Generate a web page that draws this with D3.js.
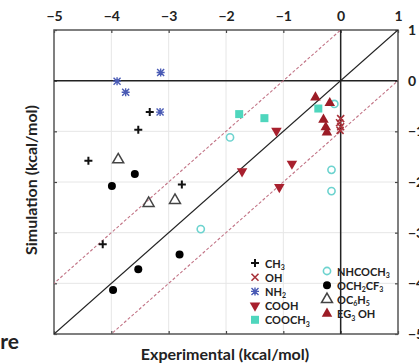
<!DOCTYPE html>
<html>
<head>
<meta charset="utf-8">
<script src="https://cdn.jsdelivr.net/npm/d3@7"></script>
<style>
  body { margin: 0; background: #fff; }
  svg text { font-family: Lato, "Open Sans", sans-serif; font-weight: bold; fill: #222; }
</style>
</head>
<body>
<div id="root"></div>
<script>
const WIDTH = 419
const HEIGHT = 364
const LEFT = 54, RIGHT = 398, TOP = 30, BOTTOM = 334

const ticks = [-5, -4, -3, -2, -1, 0, 1]

// experimental (x), simulation (y) in kcal/mol
const ch3 = [[-3.33, -0.62], [-3.53, -0.97], [-4.40, -1.58], [-2.77, -2.05], [-4.15, -3.23]]
const oh = [[0.0, -0.75], [-0.02, -0.83], [0.0, -0.91], [-0.01, -0.98]]
const nh2 = [[-3.14, 0.16], [-3.90, -0.01], [-3.75, -0.23], [-3.15, -0.62]]
const cooh = [[-1.12, -0.99], [-0.85, -1.64], [-1.72, -1.79], [-1.07, -2.10]]
const cooch3 = [[-1.77, -0.66], [-1.33, -0.74], [-0.39, -0.55]]
const nhcoch3 = [[-0.11, -0.46], [-1.93, -1.12], [-0.16, -1.76], [-0.16, -2.18], [-2.44, -2.93]]
const och2cf3 = [[-3.59, -1.84], [-3.99, -2.08], [-2.81, -3.43], [-3.53, -3.72], [-3.97, -4.13]]
const oc6h5 = [[-3.88, -1.56], [-3.35, -2.42], [-2.89, -2.36]]
const eg3oh = [[-0.44, -0.33], [-0.19, -0.44], [-0.30, -0.77], [-0.26, -0.92], [-0.24, -1.02]]

// label parts: [text, subscript?]
const series = [
  { name: [['CH', 0], ['3', 1]], data: ch3, shape: 'plus', color: '#111' },
  { name: [['OH', 0]], data: oh, shape: 'x', color: '#a8323a' },
  { name: [['NH', 0], ['2', 1]], data: nh2, shape: 'star', color: '#4a5bb5' },
  { name: [['COOH', 0]], data: cooh, shape: 'tridown', color: '#a8202e' },
  { name: [['COOCH', 0], ['3', 1]], data: cooch3, shape: 'square', color: '#4fd6bd' },
  { name: [['NHCOCH', 0], ['3', 1]], data: nhcoch3, shape: 'ocircle', color: '#6dd3cf' },
  { name: [['OCH', 0], ['2', 1], ['CF', 0], ['3', 1]], data: och2cf3, shape: 'circle', color: '#000' },
  { name: [['OC', 0], ['6', 1], ['H', 0], ['5', 1]], data: oc6h5, shape: 'otri', color: '#444' },
  { name: [['EG', 0], ['3', 1], [' OH', 0]], data: eg3oh, shape: 'triup', color: '#9c1c26' }
]

const xScale = d3.scaleLinear().domain([-5, 1]).range([LEFT, RIGHT])
const yScale = d3.scaleLinear().domain([-5, 1]).range([BOTTOM, TOP])

const svg = d3.select('#root')
  .append('svg')
  .attr('width', WIDTH)
  .attr('height', HEIGHT)

// grid
svg.append('g')
  .selectAll('line')
  .data(ticks.slice(1, -1))
  .enter()
  .append('line')
  .attr('x1', d => xScale(d)).attr('x2', d => xScale(d))
  .attr('y1', TOP).attr('y2', BOTTOM)
  .attr('stroke', '#e6e6e6')
svg.append('g')
  .selectAll('line')
  .data(ticks.slice(1, -1))
  .enter()
  .append('line')
  .attr('y1', d => yScale(d)).attr('y2', d => yScale(d))
  .attr('x1', LEFT).attr('x2', RIGHT)
  .attr('stroke', '#e6e6e6')

// axes with inward ticks
const fmt = d3.format('d')
const axTop = d3.axisTop(xScale).tickValues(ticks).tickFormat(fmt).tickSizeInner(-3).tickSizeOuter(0).tickPadding(9)
const axBottom = d3.axisBottom(xScale).tickValues(ticks).tickSizeInner(-3).tickSizeOuter(0).tickFormat('')
const axLeft = d3.axisLeft(yScale).tickValues(ticks).tickSizeInner(-3).tickSizeOuter(0).tickFormat('')
const axRight = d3.axisRight(yScale).tickValues(ticks).tickFormat(fmt).tickSizeInner(-3).tickSizeOuter(0).tickPadding(10)

svg.append('g').attr('transform', `translate(0,${TOP})`).call(axTop)
svg.append('g').attr('transform', `translate(0,${BOTTOM})`).call(axBottom)
svg.append('g').attr('transform', `translate(${LEFT},0)`).call(axLeft)
svg.append('g').attr('transform', `translate(${RIGHT},0)`).call(axRight)

svg.selectAll('.domain').remove()
svg.selectAll('.tick line').attr('stroke', '#444').attr('stroke-width', 1.2)
svg.selectAll('.tick text')
  .style('font-size', '14px')
  .style('font-family', 'Lato, sans-serif')
  .style('font-weight', 'bold')
  .attr('fill', '#222')

svg.append('rect')
  .attr('x', LEFT).attr('y', TOP)
  .attr('width', RIGHT - LEFT).attr('height', BOTTOM - TOP)
  .attr('fill', 'none')
  .attr('stroke', '#555')
  .attr('stroke-width', 1.5)

const clip = svg.append('clipPath').attr('id', 'plot-clip')
clip.append('rect').attr('x', LEFT).attr('y', TOP).attr('width', RIGHT - LEFT).attr('height', BOTTOM - TOP)

const plot = svg.append('g').attr('clip-path', 'url(#plot-clip)')

// zero lines
plot.append('line')
  .attr('x1', LEFT).attr('x2', RIGHT)
  .attr('y1', yScale(0)).attr('y2', yScale(0))
  .attr('stroke', '#222').attr('stroke-width', 1.5)
plot.append('line')
  .attr('x1', xScale(0)).attr('x2', xScale(0))
  .attr('y1', TOP).attr('y2', BOTTOM)
  .attr('stroke', '#222').attr('stroke-width', 1.5)

// y = x and +/- 1 kcal/mol bands
const line = d3.line().x(d => xScale(d[0])).y(d => yScale(d[1]))
const offsets = [1, -1]
offsets.forEach(o => {
  plot.append('path')
    .attr('d', line([[-6, -6 + o], [2, 2 + o]]))
    .attr('stroke', '#c27486')
    .attr('stroke-width', 1.1)
    .attr('stroke-dasharray', '3,2')
    .attr('fill', 'none')
})
plot.append('path')
  .attr('d', line([[-6, -6], [2, 2]]))
  .attr('stroke', '#222')
  .attr('stroke-width', 1.3)
  .attr('fill', 'none')

function drawMarker(g, shape, color) {
  const s = 4
  if (shape === 'plus') {
    g.append('path').attr('d', `M${-s},0H${s}M0,${-s}V${s}`)
      .attr('stroke', color).attr('stroke-width', 2).attr('fill', 'none')
  } else if (shape === 'x') {
    g.append('path').attr('d', `M${-3.5},${-3.5}L3.5,3.5M-3.5,3.5L3.5,-3.5`)
      .attr('stroke', color).attr('stroke-width', 1.6).attr('fill', 'none')
  } else if (shape === 'star') {
    g.append('path').attr('d', `M-4,0H4M0,-4V4M-3.5,-3.5L3.5,3.5M-3.5,3.5L3.5,-3.5`)
      .attr('stroke', color).attr('stroke-width', 1.4).attr('fill', 'none')
  } else if (shape === 'tridown') {
    g.append('path').attr('d', d3.symbol(d3.symbolTriangle, 48)())
      .attr('transform', 'rotate(180)')
      .attr('fill', color)
  } else if (shape === 'triup') {
    g.append('path').attr('d', d3.symbol(d3.symbolTriangle, 48)())
      .attr('fill', color)
  } else if (shape === 'otri') {
    g.append('path').attr('d', d3.symbol(d3.symbolTriangle, 52)())
      .attr('fill', 'none').attr('stroke', color).attr('stroke-width', 1.5)
  } else if (shape === 'square') {
    g.append('rect').attr('x', -4).attr('y', -4).attr('width', 8).attr('height', 8)
      .attr('fill', color)
  } else if (shape === 'ocircle') {
    g.append('circle').attr('r', 3.6)
      .attr('fill', 'none').attr('stroke', color).attr('stroke-width', 1.6)
  } else if (shape === 'circle') {
    g.append('circle').attr('r', 4).attr('fill', color)
  }
}

series.forEach(s => {
  plot.append('g')
    .selectAll('g')
    .data(s.data)
    .enter()
    .append('g')
    .attr('transform', d => `translate(${xScale(d[0])},${yScale(d[1])})`)
    .each(function () { drawMarker(d3.select(this), s.shape, s.color) })
})

// legend, two columns
const legendCols = [
  { x: 255, y: 263, items: series.slice(0, 5) },
  { x: 327, y: 271, items: series.slice(5) }
]
const LEGEND_STEP = 14.2
const SUB_SHIFT = 2.5

legendCols.forEach(col => {
  col.items.forEach((s, i) => {
    const y = col.y + i * LEGEND_STEP
    const g = svg.append('g').attr('transform', `translate(${col.x},${y})`)
    drawMarker(g, s.shape, s.color)
    const t = svg.append('text')
      .attr('x', col.x + 10)
      .attr('y', y + 4.5)
      .style('font-size', '11px')
    let shifted = false
    s.name.forEach(p => {
      const ts = t.append('tspan').text(p[0])
      if (p[1]) {
        ts.attr('dy', shifted ? 0 : SUB_SHIFT).style('font-size', '7px')
        shifted = true
      } else {
        ts.attr('dy', shifted ? -SUB_SHIFT : 0)
        shifted = false
      }
    })
  })
})

// axis titles
svg.append('text')
  .attr('x', 225)
  .attr('y', 360)
  .attr('text-anchor', 'middle')
  .style('font-size', '16px')
  .text('Experimental (kcal/mol)')

svg.append('text')
  .attr('transform', 'translate(37,180) rotate(-90)')
  .attr('text-anchor', 'middle')
  .style('font-size', '16px')
  .text('Simulation (kcal/mol)')

// tail of a cropped caption
svg.append('text')
  .attr('x', 19)
  .attr('y', 349)
  .attr('text-anchor', 'end')
  .style('font-size', '21px')
  .text('Figure')
</script>
</body>
</html>
